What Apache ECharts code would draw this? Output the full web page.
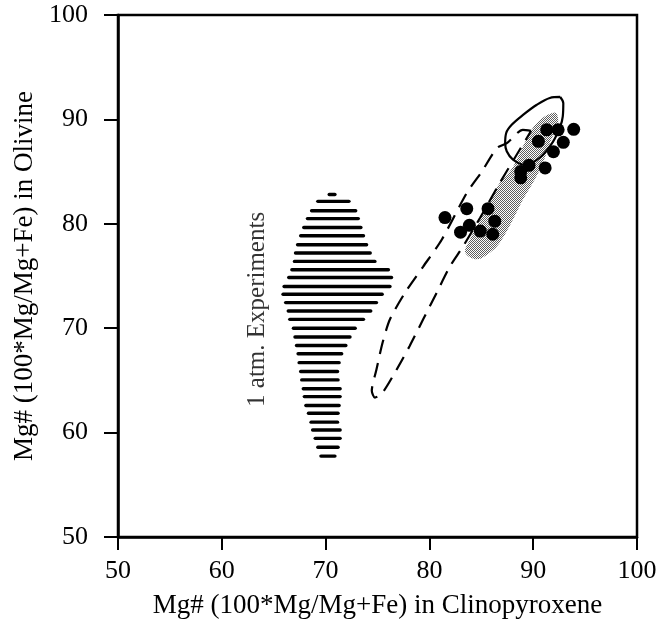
<!DOCTYPE html>
<html>
<head>
<meta charset="utf-8">
<script src="https://cdn.jsdelivr.net/npm/echarts@6/dist/echarts.min.js"></script>
<style>
  html, body { margin: 0; padding: 0; background: #fff; }
  #chart { width: 670px; height: 625px; }
</style>
</head>
<body>
<div id="chart"></div>
<script>
// cpx Mg# (x) vs olivine Mg# (y) for the natural samples
const sampleCpx = [81.5, 83.6, 85.65, 83.0, 83.85, 84.9, 86.1, 86.3, 88.8, 88.8, 89.6, 90.5, 91.15, 91.95, 91.3, 92.4, 92.9, 93.9];
const sampleOl  = [80.6, 81.45, 81.45, 79.2, 79.85, 79.3, 79.0, 80.25, 85.0, 84.4, 85.6, 87.9, 85.35, 86.9, 89.0, 89.0, 87.8, 89.05];

// dashed field outline
const dashedCpx = [89.8, 89.0, 87.5, 86.5, 85.05, 83.6, 81.2, 79.4, 77.65, 76.2, 75.5, 74.9, 74.45, 74.75, 75.5, 76.85, 78.1, 79.4, 80.7, 82.0, 83.25, 84.9, 86.8, 88.25, 89.8];
const dashedOl  = [88.9, 89.0, 87.75, 87.25, 85.0, 82.95, 78.5, 75.9, 73.4, 70.85, 68.65, 66.05, 64.0, 63.35, 63.85, 66.05, 68.3, 70.85, 73.4, 75.95, 77.85, 80.6, 83.95, 86.35, 88.9];

// solid field outline
const solidCpx = [92.6, 92.9, 92.85, 92.6, 91.9, 90.65, 89.2, 88.05, 87.45, 87.3, 87.4, 87.95, 89.05, 90.35, 91.6, 92.6];
const solidOl  = [92.15, 91.55, 90.3, 89.3, 87.85, 86.35, 85.65, 86.15, 86.95, 87.75, 88.7, 89.5, 90.45, 91.4, 92.05, 92.15];

// stippled field
const stippleCpx = [92.1, 90.35, 89.0, 88.05, 86.8, 85.85, 84.9, 83.9, 83.45, 84.55, 85.85, 86.8, 88.05, 89.0, 90.15, 90.95, 91.6, 92.4];
const stippleOl  = [90.65, 89.65, 87.4, 85.45, 83.95, 82.3, 80.4, 78.5, 77.25, 76.6, 77.25, 78.2, 80.4, 82.3, 84.25, 85.85, 87.75, 89.65];

// 1 atm experiments: horizontal hatch lines (olivine Mg#, cpx range)
const hatchOl    = [82.8, 82.15, 81.25, 80.5, 79.65, 78.85, 78.0, 77.2, 76.4, 75.6, 74.85, 74.0, 73.25, 72.45, 71.65, 70.85, 70.0, 69.15, 68.35, 67.55, 66.7, 65.85, 65.05, 64.2, 63.45, 62.6, 61.85, 61.0, 60.25, 59.45, 58.6, 57.75];
const hatchLeft  = [70.35, 69.25, 68.65, 68.25, 67.9, 67.6, 67.3, 67.1, 67.0, 66.75, 66.45, 66.0, 65.9, 66.15, 66.4, 66.55, 66.9, 67.05, 67.2, 67.35, 67.45, 67.6, 67.7, 67.85, 67.95, 68.1, 68.35, 68.6, 68.75, 69.0, 69.25, 69.55];
const hatchRight = [70.9, 72.25, 72.9, 73.15, 73.4, 73.65, 73.95, 74.3, 74.75, 76.05, 76.35, 76.2, 75.45, 74.9, 74.35, 73.65, 72.85, 72.35, 71.95, 71.55, 71.3, 71.15, 71.2, 71.4, 71.4, 71.3, 71.2, 71.15, 71.4, 71.4, 71.2, 70.9];

const serif = '"Liberation Serif", "DejaVu Serif", serif';

// fine dithered fill for the stippled field
const pat = document.createElement('canvas');
pat.width = 2; pat.height = 2;
const pctx = pat.getContext('2d');
pctx.fillStyle = '#fff';
pctx.fillRect(0, 0, 2, 2);
pctx.fillStyle = '#5e5e5e';
pctx.fillRect(0, 0, 1, 1);
pctx.fillRect(1, 1, 1, 1);

const chart = echarts.init(document.getElementById('chart'), null, { renderer: 'canvas' });

chart.setOption({
  animation: false,
  grid: {
    left: 118, right: 33, top: 15, bottom: 88,
    show: true, borderColor: '#000', borderWidth: 2.5
  },
  xAxis: {
    type: 'value', min: 50, max: 100, interval: 10,
    name: 'Mg# (100*Mg/Mg+Fe) in Clinopyroxene',
    nameLocation: 'middle', nameGap: 55,
    nameTextStyle: { fontFamily: serif, fontSize: 27, color: '#000' },
    axisLine: { show: true, onZero: false, lineStyle: { color: '#000', width: 2.5 } },
    axisTick: { show: true, inside: false, length: 13, lineStyle: { color: '#000', width: 2 } },
    axisLabel: { margin: 21, fontFamily: serif, fontSize: 26, color: '#000' },
    splitLine: { show: false }
  },
  yAxis: {
    type: 'value', min: 50, max: 100, interval: 10,
    name: 'Mg# (100*Mg/Mg+Fe) in Olivine',
    nameLocation: 'middle', nameGap: 78,
    nameTextStyle: { fontFamily: serif, fontSize: 27, color: '#000' },
    axisLine: { show: true, onZero: false, lineStyle: { color: '#000', width: 2.5 } },
    axisTick: { show: true, inside: false, length: 14, lineStyle: { color: '#000', width: 2 } },
    axisLabel: { margin: 30, fontFamily: serif, fontSize: 26, color: '#000' },
    splitLine: { show: false }
  },
  series: [
    {
      // stippled field
      type: 'custom',
      z: 1,
      data: [[stippleCpx[0], stippleOl[0]]],
      renderItem: function (params, api) {
        const pts = stippleCpx.map((x, i) => api.coord([x, stippleOl[i]]));
        return {
          type: 'polygon',
          shape: { points: pts, smooth: 0.35 },
          style: { fill: { image: pat, repeat: 'repeat' }, stroke: null }
        };
      }
    },
    {
      // hatched 1 atm. experiment field
      type: 'custom',
      z: 2,
      data: hatchOl.map((y, i) => [hatchLeft[i], y, hatchRight[i]]),
      renderItem: function (params, api) {
        const a = api.coord([api.value(0), api.value(1)]);
        const b = api.coord([api.value(2), api.value(1)]);
        return {
          type: 'line',
          shape: { x1: a[0], y1: a[1], x2: b[0], y2: b[1] },
          style: { stroke: '#000', lineWidth: 3.4, lineCap: 'round' }
        };
      }
    },
    {
      type: 'line',
      z: 3,
      data: dashedCpx.map((x, i) => [x, dashedOl[i]]),
      smooth: 0.25,
      symbol: 'none',
      lineStyle: { color: '#000', width: 2.2, type: [15, 9] }
    },
    {
      type: 'line',
      z: 3,
      data: solidCpx.map((x, i) => [x, solidOl[i]]),
      smooth: 0.35,
      symbol: 'none',
      lineStyle: { color: '#000', width: 2.2 }
    },
    {
      type: 'scatter',
      z: 5,
      data: sampleCpx.map((x, i) => [x, sampleOl[i]]),
      symbol: 'circle',
      symbolSize: 13,
      itemStyle: { color: '#000', opacity: 1 }
    },
    {
      // field label
      type: 'scatter',
      z: 4,
      data: [[63.4, 71.8]],
      symbolSize: 0,
      silent: true,
      label: {
        show: true,
        position: 'inside',
        rotate: 90,
        formatter: '1 atm. Experiments',
        fontFamily: serif,
        fontSize: 25,
        color: '#000'
      }
    }
  ]
});
</script>
</body>
</html>
